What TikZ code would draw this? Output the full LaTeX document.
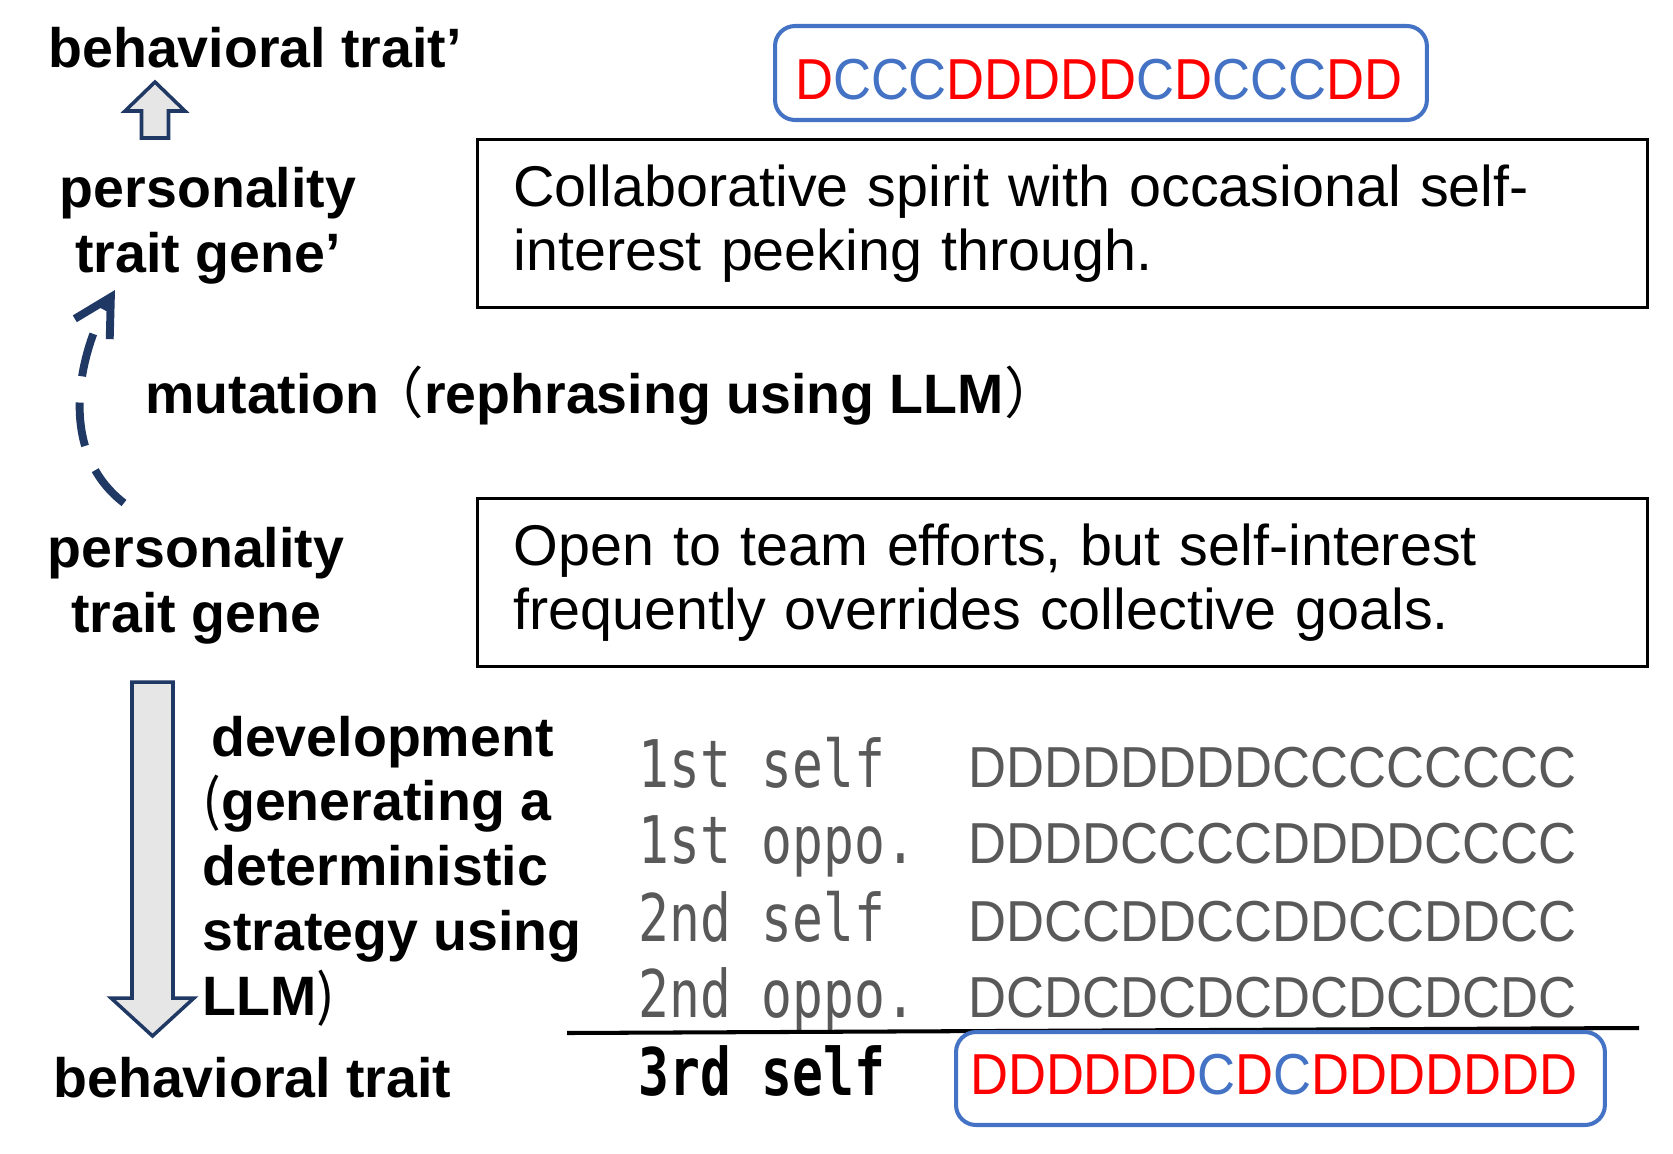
\documentclass[tikz,border=0pt]{standalone}
\usepackage{fontspec}
\setmainfont{Liberation Sans}
\newfontfamily\jpfont{Noto Sans CJK JP}
\newfontfamily\stratfont[FakeStretch=0.91]{Liberation Sans}
\newfontfamily\roundfont[FakeStretch=0.78]{DejaVu Sans Mono}
\usetikzlibrary{positioning, arrows.meta}

\definecolor{navy}{HTML}{1F3864}
\definecolor{arrowgray}{HTML}{E7E6E6}
\definecolor{roundgray}{HTML}{595959}
\definecolor{stratred}{HTML}{FF0000}
\definecolor{stratblue}{HTML}{4472C4}

\newcommand{\rD}{\textcolor{stratred}{D}}
\newcommand{\bC}{\textcolor{stratblue}{C}}

\tikzset{
    traitlabel/.style={inner sep=0pt, font=\fontsize{31.6}{36.85}\selectfont\bfseries},
    descbox/.style={draw, line width=1.7pt, anchor=north west, minimum width=23.4cm, minimum height=3.36cm,
        inner xsep=0.72cm, inner ysep=0pt, text width=21.96cm, align=left, font=\fontsize{32.7}{36.3}\selectfont},
    roundlabel/.style={anchor=base west, inner sep=0pt, text=roundgray, font=\roundfont\fontsize{37.4}{40}\selectfont},
    stratseq/.style={anchor=base west, inner sep=0pt, text=roundgray, font=\stratfont\fontsize{32.9}{36}\selectfont},
    stratbox/.style={draw=stratblue, line width=2.3pt, rounded corners=0.4cm, anchor=base west, inner ysep=0pt,
        align=left, font=\stratfont\fontsize{32.9}{36}\selectfont},
    blockarrow/.style={draw=navy, line width=2pt, fill=arrowgray, line join=miter},
    mutarrow/.style={navy, line width=4.5pt, dash pattern=on 25pt off 15pt, -{Straight Barb[length=21pt, width=23pt]}},
}

\begin{document}
\begin{tikzpicture}[x=0.02cm, y=-0.02cm]
    \useasboundingbox (0,0) rectangle (1673,1153);

    % Trait labels (multi-line nodes sit on their last baseline)
    \node[traitlabel, anchor=base west] (btp) at (48,67) {behavioral trait’};
    \node[traitlabel, anchor=base, align=center] (genep) at (208,272) {personality\\trait gene’};
    \node[traitlabel, anchor=base, align=center] (gene) at (196,632) {personality\\trait gene};
    \node[traitlabel, anchor=base west] (bt) at (53,1097) {behavioral trait};

    % Mutation
    \node[traitlabel, anchor=base west] (mut) at (145,413) {mutation\kern-0.2em{\jpfont\mdseries （}rephrasing using LLM{\jpfont\mdseries ）}};
    \coordinate (mutstart) at (124,503);
    \coordinate (mutend) at (115,290);
    \draw[mutarrow] (mutstart) .. controls (55,450) and (80,350) .. (mutend);

    % Development
    \node[traitlabel, anchor=base west, align=left] (dev) at (202,1015) {\hspace*{5pt}development\\{\jpfont\mdseries(}generating a\\deterministic\\strategy using\\LLM{\jpfont\mdseries)}};

    % Block arrows
    \coordinate (upbase) at (155,138);
    \coordinate (uptip) at (155,82);
    \draw[blockarrow] (upbase) ++(-13.5,0) -- ++(0,-27) -- ++(-16.5,0) -- (uptip) -- ++(30,29) -- ++(-16.5,0) -- ++(0,27) -- cycle;
    \coordinate (dntop) at (152.5,682);
    \coordinate (dntip) at (152.5,1036);
    \draw[blockarrow] (dntop) ++(-20.5,0) -- ++(0,316) -- ++(-21,0) -- (dntip) -- ++(41.5,-38) -- ++(-21,0) -- ++(0,-316) -- cycle;

    % Gene texts
    \node[descbox] (genetxtp) at (476,138) {Collaborative spirit with occasional self-\\interest peeking through.};
    \node[descbox] (genetxt) at (476,497) {Open to team efforts, but self-interest\\frequently overrides collective goals.};

    % Strategy of the mutated gene
    \node[stratbox, inner xsep=0.4cm, text width=12.24cm, minimum height=1.88cm, text height=1.04cm, text depth=0cm] (stratp) at (773,99)
        {\rD\bC\bC\bC\rD\rD\rD\rD\rD\bC\rD\bC\bC\bC\rD\rD};

    % Rounds
    \node[roundlabel] (r1s) at (638,787) {1st self};
    \node[stratseq] (s1s) at (968,787) {DDDDDDDDCCCCCCCC};
    \node[roundlabel] (r1o) at (638,863) {1st oppo.};
    \node[stratseq] (s1o) at (968,863) {DDDDCCCCDDDDCCCC};
    \node[roundlabel] (r2s) at (638,941) {2nd self};
    \node[stratseq] (s2s) at (968,941) {DDCCDDCCDDCCDDCC};
    \node[roundlabel] (r2o) at (638,1017) {2nd oppo.};
    \node[stratseq] (s2o) at (968,1017) {DCDCDCDCDCDCDCDC};

    \draw[line width=2.3pt] (567,1033) -- (1639,1028);

    % 3rd round
    \node[roundlabel, text=black, font=\roundfont\bfseries\fontsize{37.4}{40}\selectfont] (r3s) at (638,1095) {3rd self};
    \node[stratbox, inner xsep=0.28cm, text width=12.42cm, minimum height=1.86cm, text height=0.84cm, text depth=0.22cm] (strat) at (954,1094)
        {\rD\rD\rD\rD\rD\rD\bC\rD\bC\rD\rD\rD\rD\rD\rD\rD};
\end{tikzpicture}
\end{document}
